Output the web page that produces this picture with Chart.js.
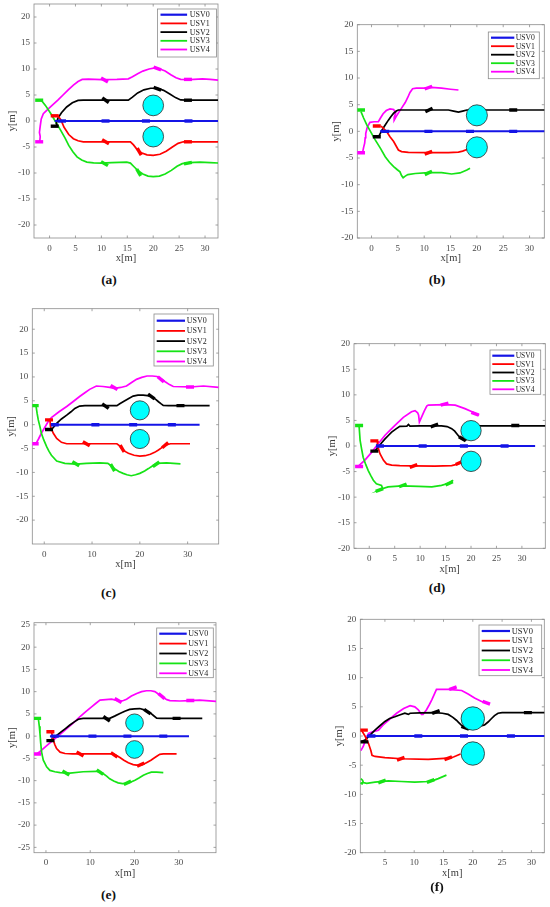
<!DOCTYPE html>
<html lang="en">
<head>
<meta charset="UTF-8">
<title>USV formation trajectories</title>
<script src="https://cdn.jsdelivr.net/npm/chart.js"></script>
<style>
  body { margin: 0; background: #fff; }
  #page { position: relative; width: 550px; height: 907px; overflow: hidden; }
  #page canvas { position: absolute; }
  .tag {
    position: absolute;
    font-family: "Liberation Serif", serif;
    font-weight: bold;
    font-size: 13.5px;
    color: #111;
    transform: translate(-50%, -50%);
  }
</style>
</head>
<body>
<div id="page"></div>
<script>
// shared
const usvNames = ['USV0', 'USV1', 'USV2', 'USV3', 'USV4'];
const usvColors = ['#1414e6', '#ff0000', '#000000', '#16e316', '#ff00ff'];
const obsX = [20, 20];
const obsY = [3, -3];
const obsR = [2, 2];

// (a)
const aXRange = [-3, 32.5], aYRange = [-22.5, 22.5];
const aXTicks = [0, 5, 10, 15, 20, 25, 30];
const aYTicks = [-20, -15, -10, -5, 0, 5, 10, 15, 20];
const aUsv0 = [[1, 0], [33, 0]];
const aUsv1 = [[1.6,1],[2.2,0.2],[2.8,-1.2],[3.7,-2.6],[4.6,-3.4],[5.5,-3.8],[6.5,-4],[15.6,-4],[16.2,-4.6],[16.9,-5.5],[17.7,-6.1],[18.8,-6.5],[20,-6.6],[21.3,-6.4],[22.5,-5.8],[23.7,-5],[24.8,-4.3],[25.8,-4],[33,-4]];
const aUsv2 = [[1.5,-1],[1.3,-0.5],[1.6,0.5],[2.3,1.6],[3.3,2.7],[4.4,3.5],[5.5,3.95],[6.5,4],[15.2,4],[16,4.6],[17,5.4],[18.2,6],[19.5,6.3],[20.8,6.3],[22,5.9],[23.2,5.2],[24.3,4.5],[25.3,4.05],[26.5,4],[33,4]];
const aUsv3 = [[-1.6,4],[-0.8,3],[0.2,1.5],[1.2,-0.2],[2.1,-1.7],[3,-3.3],[3.7,-4.7],[4.5,-5.9],[5.3,-6.9],[6.2,-7.5],[7.2,-7.9],[8.5,-8.05],[10,-8.1],[12,-8],[14.9,-7.9],[15.6,-8.1],[16.3,-8.8],[17,-9.5],[18,-10.2],[19,-10.6],[20,-10.7],[21.2,-10.6],[22.3,-10.2],[23.5,-9.5],[24.6,-8.7],[25.6,-8.2],[27,-8],[29,-7.9],[31,-8],[33,-8.1]];
const aUsv4 = [[-1.9,-4],[-1.8,-3],[-1.95,-2.2],[-1.8,-1],[-1.6,0.4],[-1.2,1.4],[-0.3,2.3],[0.7,3.2],[1.6,4],[2.6,5],[3.6,6],[4.6,6.9],[5.5,7.6],[6.3,8],[7.5,8.05],[10,7.95],[13,8],[15.2,8.1],[16,8.5],[17,9.1],[18,9.6],[19.2,10],[20.3,10.2],[21.3,10],[22.3,9.6],[23.4,8.9],[24.4,8.3],[25.3,8],[27,7.95],[29.5,8.1],[31,8],[33,7.8]];
// [usv, x, y, heading deg]
const aMarks = [[3,-2,4,0],[4,-2,-4,0],[1,1,1,0],[2,1,-1,0],[0,2.4,0,0],[0,10.8,0,0],[0,18.6,0,0],[0,26.8,0,0],
  [1,10.8,-4,-30],[1,17.3,-5.9,-60],[1,26.7,-4,0],[2,10.8,4,-35],[2,20.8,6.2,-20],[2,26.7,4,0],
  [3,10.6,-8.2,-30],[3,17.2,-9.9,-60],[3,26.7,-8.1,10],[4,10.6,7.9,-30],[4,20.8,10.1,-20],[4,26.7,8,0]];

// (b)
const bXRange = [-2.7, 32.8], bYRange = [-20, 20];
const bXTicks = [0, 5, 10, 15, 20, 25, 30];
const bYTicks = [-20, -15, -10, -5, 0, 5, 10, 15, 20];
const bUsv0 = [[1.6, 0], [33, 0]];
const bUsv1 = [[1.8,1],[2.3,0.5],[2.9,-0.1],[3.5,-1],[4.2,-1.9],[4.7,-2.8],[5.1,-3.5],[5.7,-3.8],[7,-3.95],[10.8,-4],[14.6,-4],[16.5,-3.9],[17.3,-3.7],[18.1,-3.4],[18.6,-3.1]];
const bUsv2 = [[1.3,-1.1],[1.6,-0.5],[2,0.25],[2.6,1.2],[3.2,2.1],[3.7,2.8],[4.2,3.4],[4.7,3.8],[5.1,4],[10,4],[14.6,4],[15.6,3.8],[16.5,3.6],[17.3,3.8],[18.1,4],[33,4]];
const bUsv3 = [[-2,3.7],[-1.5,2.5],[-0.9,1.2],[-0.1,-0.2],[0.7,-1.6],[1.7,-3.2],[2.6,-4.75],[3.4,-5.8],[4.2,-6.6],[4.9,-7.2],[5.4,-7.6],[5.7,-8.3],[6,-8.7],[6.4,-8.4],[6.9,-8.1],[8.3,-7.9],[10.8,-7.75],[13.3,-7.75],[15.2,-8],[16.8,-7.8],[18.1,-7.25],[18.7,-6.9]];
const bUsv4 = [[-1.7,-4],[-1.5,-3],[-1.3,-2.2],[-1.2,-1.2],[-1.1,-0.4],[-0.8,0.8],[-0.3,1.7],[0.5,1.8],[1.3,1.8],[1.7,2.5],[2.2,3.3],[2.8,3.9],[3.5,4.2],[4.2,4.1],[4.6,3.5],[4.3,2.6],[4.3,2.1],[4.7,2.8],[5.2,3.6],[5.8,4.5],[6.4,5.4],[6.9,6.4],[7.3,7.3],[7.8,8],[8.5,8.1],[10.2,8.1],[11.4,8.25],[13.3,8.1],[15,7.9],[16.5,7.75]];
const bMarks = [[3,-2,4,0],[4,-2,-4,0],[1,1,1,0],[2,1,-1,0],[0,2.6,0,0],[0,10.8,0,0],[0,18.7,0,0],[0,26.9,0,0],
  [1,10.8,-4,20],[2,10.9,4,25],[2,26.9,4,0],[3,10.8,-7.8,25],[4,10.8,8.2,20]];

// (c)
const cXRange = [-2.5, 36.5], cYRange = [-25, 24.3];
const cXTicks = [0, 10, 20, 30];
const cYTicks = [-20, -15, -10, -5, 0, 5, 10, 15, 20];
const cUsv0 = [[1.9, 0], [32.5, 0]];
const cUsv1 = [[1.2,1],[1.3,-0.4],[1.9,-1.8],[2.6,-2.9],[3.6,-3.7],[4.7,-4],[15.2,-4],[15.7,-4.4],[16.2,-5],[16.9,-5.6],[17.6,-6],[18.8,-6.4],[20,-6.6],[21.1,-6.5],[22.2,-6.2],[23.1,-5.8],[23.9,-5.3],[24.6,-4.8],[25.3,-4.3],[26.4,-4],[30.5,-4]];
const cUsv2 = [[1.5,-1],[1.9,-0.6],[2.6,0.3],[3.6,1.2],[4.7,2],[5.6,2.7],[6.4,3.4],[7.4,3.9],[8.5,4],[15.2,4],[15.8,4.4],[16.5,4.8],[17.5,5.4],[18.6,6],[19.6,6.2],[20.7,6.2],[21.6,6.1],[22.4,5.9],[23.2,5.4],[23.9,4.8],[24.4,4.4],[24.9,4.05],[26,4],[34.6,4]];
const cUsv3 = [[-1.7,3.8],[-1.5,2.4],[-1.25,1],[-0.9,-0.4],[-0.6,-1.8],[-0.1,-3.2],[0.5,-4.6],[1,-5.6],[1.5,-6.4],[2.6,-7.6],[4.3,-8.1],[6.7,-8.25],[8.8,-8.1],[11.6,-8],[13.3,-8.1],[14,-8.6],[14.7,-9.2],[15.6,-9.8],[16.5,-10.2],[17.3,-10.5],[18.2,-10.7],[19.1,-10.5],[20,-10.2],[21,-9.7],[21.8,-9.2],[22.7,-8.6],[23.5,-8.1],[25.6,-8],[28.5,-8.2]];
const cUsv4 = [[-1.7,-3.9],[-1.2,-3],[-0.6,-1.8],[0.1,-0.6],[0.8,0.6],[1.5,1.5],[3.1,2.7],[4.7,3.8],[6,4.8],[7.4,5.9],[8.5,6.7],[9.5,7.4],[10.9,8.1],[12.3,8],[13.7,7.8],[14.7,7.6],[16,7.8],[17.2,8.1],[18.2,8.8],[19.3,9.5],[20.4,9.9],[21.5,10.2],[22.6,10.2],[23.6,10.1],[24.5,9.6],[25.3,9],[26.2,8.4],[27,8],[30.5,7.9],[33.3,8.1],[36.5,7.8]];
const cMarks = [[3,-2,4,0],[4,-2,-4,0],[1,1,1,0],[2,1,-1,0],[0,2.2,0,0],[0,10.7,0,0],[0,18.6,0,0],[0,26.7,0,0],
  [1,8.8,-4,-30],[1,16.3,-5,-60],[1,25.3,-4.3,40],[2,12.8,3.9,-35],[2,22.4,5.9,-35],[2,28.5,4,0],
  [3,6.6,-8.2,-30],[3,14.3,-9,-60],[3,23.4,-8.3,35],[4,14.6,7.8,-30],[4,24.4,9.5,-40],[4,30.5,7.9,0]];

// (d)
const dXRange = [-3, 34.6], dYRange = [-20, 20];
const dXTicks = [0, 5, 10, 15, 20, 25, 30];
const dYTicks = [-20, -15, -10, -5, 0, 5, 10, 15, 20];
const dUsv0 = [[1.4, 0], [32.6, 0]];
const dUsv1 = [[1.7,1],[1.6,0.2],[2.1,-1.5],[2.8,-2.8],[3.4,-3.5],[4.4,-3.75],[6,-3.85],[8.7,-3.9],[12.9,-3.95],[16.2,-3.85],[17,-3.65],[17.5,-3.5],[18.2,-3.1]];
const dUsv2 = [[1.1,-1],[1.8,-0.2],[2.4,0.6],[3.1,1.4],[3.8,2.1],[4.4,2.7],[5.2,3.3],[6,3.85],[7.4,3.9],[7.7,4.2],[8,3.9],[10,3.95],[14.2,3.95],[15.3,3.8],[16.2,3.4],[16.8,2.9],[17.2,2.4],[17.6,1.9],[18,1.5],[18.5,1.25],[19,1.2],[21.8,3.95],[34.6,3.95]];
const dUsv3 = [[-2,3.9],[-1.8,1.1],[-1.5,-0.6],[-1.2,-2.2],[-0.7,-3.6],[-0.2,-4.8],[0.3,-5.8],[0.8,-6.7],[1.4,-7.4],[2.4,-7.7],[2.6,-8.2],[2.2,-8.6],[1.8,-8.7],[2.4,-8.4],[3.7,-8],[6.4,-7.8],[9.7,-7.9],[12.3,-8],[14.2,-7.7],[15.6,-7.3],[16.5,-6.7]];
const dUsv4 = [[-2.2,-4],[-0.9,-2.8],[0.5,-1.2],[1.8,0.5],[3.1,2.1],[4.1,3.1],[5.1,4.1],[6.7,5.6],[8.3,6.7],[9,6.9],[9.5,6.5],[9.7,6],[9.85,4.7],[10.3,5.7],[10.8,6.8],[11.3,7.8],[11.6,8],[14.9,8.1],[16.9,8],[18.8,7.3],[20.2,6.7],[21.6,6]];
const dMarks = [[3,-2,4,0],[4,-2,-4,0],[1,1,1,0],[2,1,-1,0],[0,2.1,0,0],[0,10.5,0,0],[0,18.6,0,0],[0,26.6,0,0],
  [1,8.7,-3.9,20],[1,17.7,-3.3,25],[2,12.8,4,20],[2,28.7,4,0],[2,18.3,1.4,-30],
  [3,2,-8.6,20],[3,6.6,-7.7,20],[3,15.7,-7.3,25],[4,14.8,8.2,15],[4,20.8,6.3,-20]];

// (e)
const eXRange = [-2.7, 38.4], eYRange = [-26.2, 25.5];
const eXTicks = [0, 10, 20, 30];
const eYTicks = [-25, -20, -15, -10, -5, 0, 5, 10, 15, 20, 25];
const eUsv0 = [[0.9, 0], [32.3, 0]];
const eUsv1 = [[1.2,1],[1.4,0.3],[1.65,-0.9],[2,-1.9],[2.4,-2.8],[3.2,-3.6],[4.3,-3.9],[6,-4],[15.2,-4],[16,-4.4],[16.7,-4.8],[17.6,-5.4],[18.6,-6],[19.7,-6.4],[20.8,-6.55],[21.8,-6.4],[22.7,-6],[23.7,-5.4],[24.6,-4.8],[25.2,-4.4],[25.7,-4.1],[26.5,-4],[29.5,-4]];
const eUsv2 = [[0.9,-1],[2,-0.15],[3.5,1],[4.4,1.7],[5.4,2.5],[6.4,3.2],[7.3,3.8],[8.4,4],[14.4,4],[15.5,4.5],[16.7,5.1],[17.8,5.6],[18.9,6],[20,6.15],[21.2,6.2],[22.2,5.9],[23.1,5.5],[23.7,5.1],[24.2,4.7],[25,4.05],[26,4],[35.3,4]];
const eUsv3 = [[-1.7,3.8],[-1.5,2.2],[-1.35,0.6],[-1.2,-1.4],[-1,-3.5],[-0.8,-4.5],[-0.6,-5.4],[-0.2,-6.2],[0.15,-6.9],[0.9,-7.7],[2,-8],[3.2,-8.2],[5.4,-8.3],[8.4,-8],[11.4,-7.9],[12.2,-8.1],[12.9,-8.4],[13.7,-9],[14.4,-9.6],[15.3,-10.1],[16.3,-10.5],[17.3,-10.65],[18.2,-10.6],[19.2,-10.3],[20.1,-9.9],[21,-9.4],[22,-8.8],[22.9,-8.4],[23.8,-8.1],[25,-8.1],[26.5,-8.2]];
const eUsv4 = [[-2.1,-4],[-1.4,-3.5],[-0.6,-2.8],[0.5,-1.85],[1.65,-0.9],[3.2,0.4],[4.7,1.7],[6.2,3],[7.7,4.4],[9,5.5],[10.3,6.6],[11.3,7.4],[12.2,8.1],[13.5,8.2],[14.8,8.3],[15.8,8.1],[16.7,7.8],[17.5,8],[18.2,8.3],[19.3,9],[20.5,9.6],[21.6,10],[22.7,10.2],[23.7,10.2],[24.6,10],[25.6,9.3],[26.5,8.7],[27.3,8.2],[28,8],[30.2,7.9],[32.5,8],[34.7,8.1],[38.4,7.8]];
const eMarks = [[3,-2,4,0],[4,-2,-4,0],[1,1,1,0],[2,1,-1,0],[0,2,0,0],[0,10.5,0,0],[0,18.4,0,0],[0,26.5,0,0],
  [1,7.7,-4,-30],[1,15.4,-4.2,-35],[1,21.4,-6.4,25],[2,13.7,3.9,-35],[2,22.9,5.5,-35],[2,29.5,4,0],
  [3,4.5,-8.3,-30],[3,12.2,-8.1,-35],[3,18.4,-10.5,25],[4,16.3,8,-30],[4,26.1,9,-40],[4,32.6,8,0]];

// (f)
const fXRange = [0.8, 32.2], fYRange = [-20, 20];
const fXTicks = [5, 10, 15, 20, 25, 30];
const fYTicks = [-20, -15, -10, -5, 0, 5, 10, 15, 20];
const fUsv0 = [[1.9, 0], [33, 0]];
const fUsv1 = [[1,1],[1.6,0],[2.2,-1.3],[2.6,-2.5],[2.8,-3.3],[3.3,-3.5],[5,-3.7],[7.8,-3.9],[12.4,-4],[15.8,-3.8],[16.7,-3.6],[17.2,-3.4],[17.9,-3.1]];
const fUsv2 = [[0.9,-1],[1.6,-0.7],[2.2,-0.1],[3.3,1],[4.2,1.8],[5,2.5],[5.8,3],[6.7,3.3],[7.5,3.6],[8.4,3.9],[9,3.7],[9.3,3.9],[11,3.95],[13.5,4],[14.8,3.9],[15.8,3.7],[16.6,3.2],[17.2,2.7],[17.6,2.3],[18,1.9],[18.6,1.4],[19.5,1.2],[22,1.9],[22.6,2.4],[23.2,3],[23.7,3.5],[24.3,3.9],[25,4],[32.5,4]];
const fUsv3 = [[0.9,-7.3],[1.2,-7.6],[1.3,-7.9],[1.1,-8.2],[0.9,-8.1],[1.2,-7.95],[1.9,-8.1],[3.3,-7.9],[5.6,-7.7],[7.8,-7.8],[10.1,-7.9],[12.4,-7.8],[13.3,-7.6],[14.1,-7.3],[15.5,-6.7]];
const fUsv4 = [[0.9,-2.5],[1.3,-1.8],[1.7,-0.7],[2.2,0.45],[3,0.75],[3.9,1],[4.7,1.9],[5.6,2.7],[6.3,3.3],[7,3.9],[8.2,4.7],[9.3,5.2],[10.1,5],[10.7,4.5],[11.25,3.7],[11.5,3.7],[12.1,4.5],[12.6,5.4],[13,6.2],[13.4,7.1],[13.8,8],[15.8,8],[18.1,7.8],[19.2,7.2],[20.3,6.5],[21.5,5.9],[22.6,5.6]];
const fMarks = [[1,1.4,1,0],[2,1.5,-1,0],[0,2.7,0,0],[0,10.7,0,0],[0,18.5,0,0],[0,26.5,0,0],
  [1,7.7,-3.9,20],[1,15.8,-3.8,20],[2,13.7,4.1,20],[2,29.4,4,0],[2,18.7,1.4,-20],
  [3,4.5,-7.8,20],[3,12.8,-7.7,20],[4,16.6,8.2,20],[4,22.3,5.7,-20]];

// page layout: plot box [left, top, right, bottom] in px, legend geometry, tag centre
const panels = [
  { tag: '(a)', at: [109, 280], box: [34, 4, 218, 238], xr: aXRange, yr: aYRange, xt: aXTicks, yt: aYTicks,
    paths: [aUsv0, aUsv1, aUsv2, aUsv3, aUsv4], marks: aMarks,
    leg: { w: 59, h: 48, r: 1.5, t: 5, first: 5.7, gap: 8.7, lx: 3, ll: 26.6, tx: 32.3, font: 8 } },
  { tag: '(b)', at: [437, 280], box: [357.3, 24.7, 544.3, 238], xr: bXRange, yr: bYRange, xt: bXTicks, yt: bYTicks,
    paths: [bUsv0, bUsv1, bUsv2, bUsv3, bUsv4], marks: bMarks,
    leg: { w: 51, h: 46.7, r: 5, t: 7.3, first: 5.7, gap: 8.5, lx: 2.7, ll: 23.3, tx: 27.4, font: 7.7 } },
  { tag: '(c)', at: [108.5, 593], box: [32.3, 308.7, 218.7, 544], xr: cXRange, yr: cYRange, xt: cXTicks, yt: cYTicks,
    paths: [cUsv0, cUsv1, cUsv2, cUsv3, cUsv4], marks: cMarks,
    leg: { w: 59.3, h: 52, r: 5.4, t: 5.3, first: 6.7, gap: 10.2, lx: 2.7, ll: 28.3, tx: 32.7, font: 8 } },
  { tag: '(d)', at: [437, 588], box: [354, 343.7, 545.3, 548.3], xr: dXRange, yr: dYRange, xt: dXTicks, yt: dYTicks,
    paths: [dUsv0, dUsv1, dUsv2, dUsv3, dUsv4], marks: dMarks,
    leg: { w: 50.7, h: 44.3, r: 4.6, t: 6.3, first: 5.7, gap: 8.4, lx: 2.3, ll: 22, tx: 25.7, font: 7.5 } },
  { tag: '(e)', at: [108.5, 895], box: [34, 622.7, 216, 852.7], xr: eXRange, yr: eYRange, xt: eXTicks, yt: eYTicks,
    paths: [eUsv0, eUsv1, eUsv2, eUsv3, eUsv4], marks: eMarks,
    leg: { w: 56.6, h: 49.7, r: 2.7, t: 5.3, first: 5.7, gap: 9.9, lx: 2.6, ll: 27.4, tx: 31.6, font: 8 } },
  { tag: '(f)', at: [437, 887], box: [360.3, 619.3, 544.3, 852.7], xr: fXRange, yr: fYRange, xt: fXTicks, yt: fYTicks,
    paths: [fUsv0, fUsv1, fUsv2, fUsv3, fUsv4], marks: fMarks,
    leg: { w: 62.7, h: 50.7, r: 2.6, t: 5.7, first: 6, gap: 9.75, lx: 2.7, ll: 28.3, tx: 32.7, font: 8.5 } }
];

const serif = '"Liberation Serif", "Times New Roman", serif';
const page = document.getElementById('page');
const AXIS_W = 34, AXIS_H = 30, PAD_T = 10, PAD_R = 10;

function radiusPx(chart, r) {
  const s = chart.scales.x;
  if (!s) return 0;
  return Math.abs(s.getPixelForValue(r) - s.getPixelForValue(0));
}

function drawFrame(chart) {
  const { ctx, chartArea: a, scales: { x, y } } = chart;
  ctx.save();
  ctx.strokeStyle = '#8c8c8c';
  ctx.lineWidth = 0.8;
  ctx.strokeRect(a.left, a.top, a.width, a.height);
  ctx.beginPath();
  x.ticks.forEach(t => {
    const px = x.getPixelForValue(t.value);
    ctx.moveTo(px, a.bottom); ctx.lineTo(px, a.bottom - 2.5);
    ctx.moveTo(px, a.top); ctx.lineTo(px, a.top + 2.5);
  });
  y.ticks.forEach(t => {
    const py = y.getPixelForValue(t.value);
    ctx.moveTo(a.left, py); ctx.lineTo(a.left + 2.5, py);
    ctx.moveTo(a.right, py); ctx.lineTo(a.right - 2.5, py);
  });
  ctx.stroke();
  ctx.restore();
}

function drawLegend(chart, o) {
  const { ctx, chartArea: a } = chart;
  const x0 = a.right - o.r - o.w, y0 = a.top + o.t;
  ctx.save();
  ctx.fillStyle = '#fff';
  ctx.fillRect(x0, y0, o.w, o.h);
  ctx.strokeStyle = '#8c8c8c';
  ctx.lineWidth = 0.8;
  ctx.strokeRect(x0, y0, o.w, o.h);
  ctx.font = o.font + 'px ' + serif;
  ctx.textBaseline = 'middle';
  usvNames.forEach((n, k) => {
    const yy = y0 + o.first + k * o.gap;
    ctx.strokeStyle = usvColors[k];
    ctx.lineWidth = k === 0 ? 2.2 : 1.8;
    ctx.beginPath();
    ctx.moveTo(x0 + o.lx, yy);
    ctx.lineTo(x0 + o.lx + o.ll, yy);
    ctx.stroke();
    ctx.fillStyle = '#222';
    ctx.fillText(n, x0 + o.tx, yy + 0.5);
  });
  ctx.restore();
}

function makeChart(p) {
  const [bl, bt, br, bb] = p.box;
  const cl = Math.floor(bl - AXIS_W), ct = Math.floor(bt - PAD_T);
  const cw = Math.ceil(br + PAD_R) - cl, ch = Math.ceil(bb + AXIS_H) - ct;
  const canvas = document.createElement('canvas');
  canvas.width = cw; canvas.height = ch;
  canvas.style.left = cl + 'px'; canvas.style.top = ct + 'px';
  canvas.style.width = cw + 'px'; canvas.style.height = ch + 'px';
  page.appendChild(canvas);

  const tag = document.createElement('div');
  tag.className = 'tag';
  tag.textContent = p.tag;
  tag.style.left = p.at[0] + 'px';
  tag.style.top = p.at[1] + 'px';
  page.appendChild(tag);

  const datasets = [];
  // obstacles on top
  datasets.push({
    label: 'obstacle',
    data: obsX.map((x, i) => ({ x, y: obsY[i] })),
    showLine: false,
    pointRadius: c => radiusPx(c.chart, obsR[c.dataIndex]),
    pointHoverRadius: c => radiusPx(c.chart, obsR[c.dataIndex]),
    pointBackgroundColor: '#00ffff',
    pointBorderColor: '#2a2a2a',
    pointBorderWidth: 0.8,
    order: 0
  });
  usvNames.forEach((n, k) => {
    const ms = p.marks.filter(m => m[0] === k);
    datasets.push({
      label: n + ' boat',
      data: ms.map(m => ({ x: m[1], y: m[2] })),
      showLine: false,
      pointStyle: 'line',
      pointRadius: 4,
      pointBorderWidth: 3.4,
      pointBorderColor: usvColors[k],
      pointRotation: c => -ms[c.dataIndex][3],
      order: 1
    });
    datasets.push({
      label: n,
      data: p.paths[k].map(([x, y]) => ({ x, y })),
      showLine: true,
      pointRadius: 0,
      borderColor: usvColors[k],
      borderWidth: k === 0 ? 2 : 1.7,
      tension: 0,
      order: 2
    });
  });

  const tickFont = { family: serif, size: 9 };
  const titleFont = { family: serif, size: 10.5 };

  new Chart(canvas.getContext('2d'), {
    type: 'scatter',
    data: { datasets },
    options: {
      responsive: false,
      animation: false,
      events: [],
      layout: {
        padding: {
          left: bl - AXIS_W - cl,
          top: bt - ct,
          right: cl + cw - br,
          bottom: ct + ch - bb - AXIS_H
        }
      },
      plugins: { legend: { display: false }, tooltip: { enabled: false } },
      scales: {
        x: {
          type: 'linear',
          min: p.xr[0], max: p.xr[1],
          afterBuildTicks: s => { s.ticks = p.xt.map(v => ({ value: v })); },
          afterFit: s => { s.height = AXIS_H; },
          grid: { display: false, drawTicks: false },
          border: { display: false },
          ticks: { padding: 5, color: '#4a4a4a', font: tickFont, maxRotation: 0, autoSkip: false },
          title: { display: true, text: 'x[m]', color: '#3a3a3a', font: titleFont, padding: { top: 0, bottom: 3.2 } }
        },
        y: {
          type: 'linear',
          min: p.yr[0], max: p.yr[1],
          afterBuildTicks: s => { s.ticks = p.yt.map(v => ({ value: v })); },
          afterFit: s => { s.width = AXIS_W; },
          grid: { display: false, drawTicks: false },
          border: { display: false },
          ticks: { padding: 4, color: '#4a4a4a', font: tickFont, autoSkip: false },
          title: { display: true, text: 'y[m]', color: '#3a3a3a', font: titleFont, padding: { top: 6.2, bottom: 0 } }
        }
      }
    },
    plugins: [{
      id: 'matlabAxes',
      beforeDatasetsDraw: c => drawFrame(c),
      afterDatasetsDraw: c => drawLegend(c, p.leg)
    }]
  });
}

panels.forEach(makeChart);
</script>
</body>
</html>
